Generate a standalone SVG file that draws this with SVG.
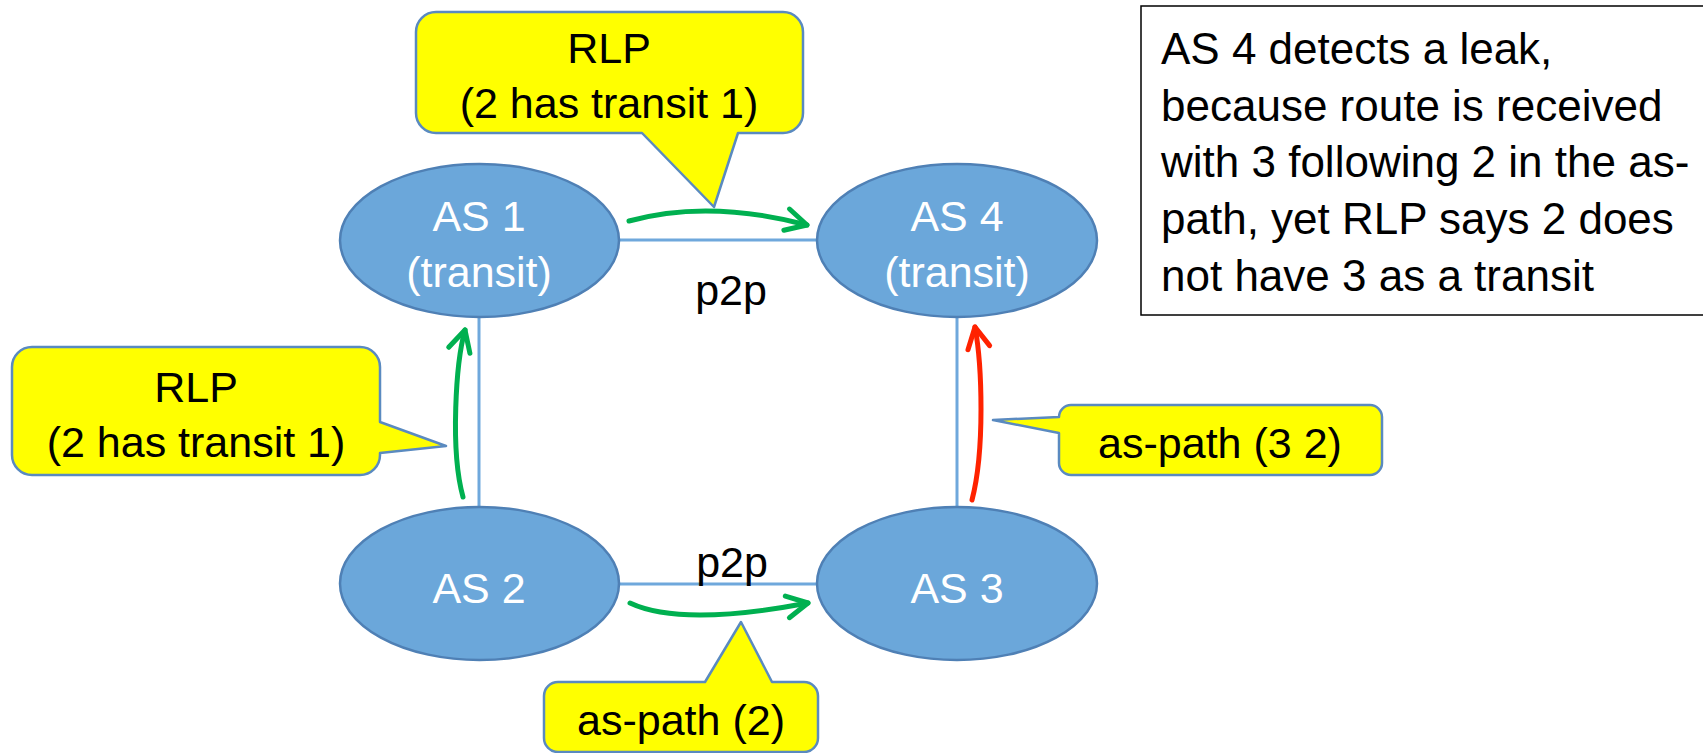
<svg xmlns="http://www.w3.org/2000/svg" width="1703" height="753" viewBox="0 0 1703 753">
<style>
  text { font-family: "Liberation Sans", Arial, sans-serif; font-size: 43px; }
  .as { fill: #6BA7DA; stroke: #4F80B5; stroke-width: 2.5; }
  .as-t { fill: #FFFFFF; text-anchor: middle; }
  .link { stroke: #6FA8DC; stroke-width: 3; fill: none; }
  .call { fill: #FFFF00; stroke: #5A8AC0; stroke-width: 2.5; stroke-linejoin: round; }
  .ct { fill: #000000; text-anchor: middle; }
  .lbl { fill: #000000; text-anchor: middle; }
  .g-arrow { stroke: #00B050; stroke-width: 5; fill: none; stroke-linecap: round; }
  .r-arrow { stroke: #FF2200; stroke-width: 5; fill: none; stroke-linecap: round; }
  .note { fill: #FFFFFF; stroke: #000000; stroke-width: 1.5; }
  .nt { fill: #000000; font-size: 44px; }
</style>
<defs>
  <marker id="headG" markerUnits="userSpaceOnUse" markerWidth="40" markerHeight="40" viewBox="-30 -20 40 40" refX="0" refY="0" orient="auto">
    <path d="M -21 -11 L 0 0 L -21 11" fill="none" stroke="#00B050" stroke-width="5" stroke-linecap="round" stroke-linejoin="round"/>
  </marker>
  <marker id="headR" markerUnits="userSpaceOnUse" markerWidth="40" markerHeight="40" viewBox="-30 -20 40 40" refX="0" refY="0" orient="auto">
    <path d="M -21 -11 L 0 0 L -21 11" fill="none" stroke="#FF2200" stroke-width="5" stroke-linecap="round" stroke-linejoin="round"/>
  </marker>
</defs>

<g id="links">
  <line class="link" x1="619" y1="240" x2="817" y2="240"/>
  <line class="link" x1="619" y1="584" x2="817" y2="584"/>
  <line class="link" x1="479" y1="317" x2="479" y2="507"/>
  <line class="link" x1="957" y1="317" x2="957" y2="507"/>
  <text class="lbl" x="731" y="305">p2p</text>
  <text class="lbl" x="732" y="577">p2p</text>
</g>

<g id="as1">
  <ellipse class="as" cx="479.5" cy="240.5" rx="139.5" ry="76.5"/>
  <text class="as-t" x="479" y="231">AS 1</text>
  <text class="as-t" x="479" y="287">(transit)</text>
</g>
<g id="as4">
  <ellipse class="as" cx="957" cy="240.5" rx="140" ry="76.5"/>
  <text class="as-t" x="957" y="231">AS 4</text>
  <text class="as-t" x="957" y="287">(transit)</text>
</g>
<g id="as2">
  <ellipse class="as" cx="479.5" cy="583.5" rx="139.5" ry="76.5"/>
  <text class="as-t" x="479" y="603">AS 2</text>
</g>
<g id="as3">
  <ellipse class="as" cx="957" cy="583.5" rx="140" ry="76.5"/>
  <text class="as-t" x="957" y="603">AS 3</text>
</g>

<g id="callout-top">
  <path class="call" d="M 436 12 H 783 A 20 20 0 0 1 803 32 V 113 A 20 20 0 0 1 783 133 H 738 L 714 207 L 642 133 H 436 A 20 20 0 0 1 416 113 V 32 A 20 20 0 0 1 436 12 Z"/>
  <text class="ct" x="609" y="63">RLP</text>
  <text class="ct" x="609" y="118">(2 has transit 1)</text>
</g>
<g id="callout-left">
  <path class="call" d="M 32 347 H 360 A 20 20 0 0 1 380 367 V 422 L 446 446 L 380 453 V 455 A 20 20 0 0 1 360 475 H 32 A 20 20 0 0 1 12 455 V 367 A 20 20 0 0 1 32 347 Z"/>
  <text class="ct" x="196" y="402">RLP</text>
  <text class="ct" x="196" y="457">(2 has transit 1)</text>
</g>
<g id="callout-right">
  <path class="call" d="M 1071 405 H 1370 A 12 12 0 0 1 1382 417 V 463 A 12 12 0 0 1 1370 475 H 1071 A 12 12 0 0 1 1059 463 V 433 L 993 420 L 1059 417 A 12 12 0 0 1 1071 405 Z"/>
  <text class="ct" x="1220" y="458">as-path (3 2)</text>
</g>
<g id="callout-bottom">
  <path class="call" d="M 558 682 H 705 L 741 622 L 772 682 H 804 A 14 14 0 0 1 818 696 V 738 A 14 14 0 0 1 804 752 H 558 A 14 14 0 0 1 544 738 V 696 A 14 14 0 0 1 558 682 Z"/>
  <text class="ct" x="681" y="735">as-path (2)</text>
</g>

<g id="connectors">
  <path class="g-arrow" d="M 629 221 Q 708 199 807 225" marker-end="url(#headG)"/>
  <path class="g-arrow" d="M 630 603 Q 681 627 808 603" marker-end="url(#headG)"/>
  <path class="g-arrow" d="M 463 497 C 450 450 456 362 465 330" marker-end="url(#headG)"/>
  <path class="r-arrow" d="M 972 500 C 985 450 982 365 975 327" marker-end="url(#headR)"/>
</g>

<g id="note">
  <rect class="note" x="1141" y="6" width="600" height="309"/>
  <text class="nt" x="1161" y="64">AS 4 detects a leak,</text>
  <text class="nt" x="1161" y="121">because route is received</text>
  <text class="nt" x="1161" y="177">with 3 following 2 in the as-</text>
  <text class="nt" x="1161" y="234">path, yet RLP says 2 does</text>
  <text class="nt" x="1161" y="291">not have 3 as a transit</text>
</g>
</svg>
